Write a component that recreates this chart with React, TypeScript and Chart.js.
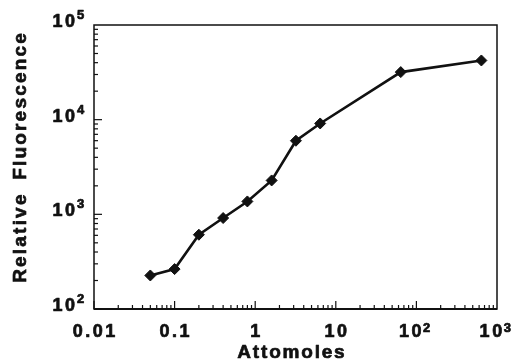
import React, { useEffect, useRef } from "react";
import { Chart, registerables } from "chart.js";

Chart.register(...registerables);

const attomoles = [0.05, 0.1, 0.2, 0.4, 0.8, 1.6, 3.2, 6.4, 64, 640];
const fluorescence = [226, 264, 609, 914, 1368, 2280, 5990, 9120, 31800, 42200];

const xTickValues = [0.01, 0.1, 1, 10, 100, 1000];
const xTickBase = ["0.01", "0.1", "1", "10", "10", "10"];
const xTickExp = ["", "", "", "", "2", "3"];

const yTickValues = [100, 1000, 10000, 100000];
const yTickBase = ["10", "10", "10", "10"];
const yTickExp = ["2", "3", "4", "5"];

const xTitle = "Attomoles";
const yTitle = "Relative Fluorescence";

const FONT = "'Liberation Sans', Arial, Helvetica, sans-serif";

function spacedWidth(ctx: CanvasRenderingContext2D, text: string, sp: number) {
  let w = 0;
  const chars = Array.from(text);
  for (const ch of chars) w += ctx.measureText(ch).width;
  return w + sp * Math.max(0, chars.length - 1);
}

function drawChar(ctx: CanvasRenderingContext2D, ch: string, x: number, y: number) {
  ctx.fillText(ch, x, y);
  ctx.strokeText(ch, x, y);
}

function drawSpaced(ctx: CanvasRenderingContext2D, text: string, x: number, y: number, sp: number) {
  ctx.textAlign = "left";
  let cx = x;
  for (const ch of Array.from(text)) {
    drawChar(ctx, ch, cx, y);
    cx += ctx.measureText(ch).width + sp;
  }
}

const framePlugin = {
  id: "frameAndLabels",
  afterDraw(chart: any) {
    const ctx: CanvasRenderingContext2D = chart.ctx;
    const { left, right, top, bottom } = chart.chartArea;
    const xs = chart.scales.x;
    const ys = chart.scales.y;
    ctx.save();
    ctx.strokeStyle = "#111";
    ctx.fillStyle = "#111";

    // frame
    ctx.lineWidth = 1.5;
    ctx.strokeRect(left, top, right - left, bottom - top);
    ctx.lineWidth = 2;
    ctx.beginPath();
    ctx.moveTo(left, bottom);
    ctx.lineTo(right, bottom);
    ctx.stroke();

    // ticks (inward)
    ctx.lineWidth = 1.2;
    const xd0 = Math.round(Math.log10(xs.min));
    const xd1 = Math.round(Math.log10(xs.max));
    for (let d = xd0; d < xd1; d++) {
      for (let k = 1; k <= 9; k++) {
        const px = xs.getPixelForValue(k * Math.pow(10, d));
        const len = k === 1 ? 8 : 4;
        ctx.beginPath();
        ctx.moveTo(px, bottom);
        ctx.lineTo(px, bottom - len);
        ctx.stroke();
      }
    }
    const yd0 = Math.round(Math.log10(ys.min));
    const yd1 = Math.round(Math.log10(ys.max));
    for (let d = yd0; d < yd1; d++) {
      for (let k = 1; k <= 9; k++) {
        const py = ys.getPixelForValue(k * Math.pow(10, d));
        const len = k === 1 ? 8 : 4;
        ctx.beginPath();
        ctx.moveTo(left, py);
        ctx.lineTo(left + len, py);
        ctx.stroke();
      }
    }

    // text
    ctx.lineWidth = 0.7;
    ctx.lineJoin = "round";
    ctx.textBaseline = "alphabetic";
    const baseFont = `bold 18px ${FONT}`;
    const expFont = `bold 13px ${FONT}`;
    xTickValues.forEach((v, i) => {
      const px = xs.getPixelForValue(v);
      ctx.font = baseFont;
      const wb = spacedWidth(ctx, xTickBase[i], 2.5);
      ctx.font = expFont;
      const we = xTickExp[i] ? ctx.measureText(xTickExp[i]).width + 1 : 0;
      const start = px - (wb + we) / 2 - (xTickExp[i] ? 2 : 0);
      ctx.font = baseFont;
      drawSpaced(ctx, xTickBase[i], start, 337, 2.5);
      if (xTickExp[i]) {
        ctx.font = expFont;
        ctx.textAlign = "left";
        drawChar(ctx, xTickExp[i], start + wb + 1.5, 332);
      }
    });

    yTickValues.forEach((v, i) => {
      const py = ys.getPixelForValue(v);
      ctx.font = baseFont;
      const wb = spacedWidth(ctx, yTickBase[i], 2.5);
      const start = 75 - wb;
      drawSpaced(ctx, yTickBase[i], start, py + 2, 2.5);
      ctx.font = expFont;
      ctx.textAlign = "left";
      drawChar(ctx, yTickExp[i], 77, py - 6);
    });

    // x title
    ctx.font = `bold 19px ${FONT}`;
    const wt = spacedWidth(ctx, xTitle, 1.8);
    drawSpaced(ctx, xTitle, 291 - wt / 2, 358, 1.8);

    // y title
    ctx.font = `bold 19px ${FONT}`;
    const ySp = 2.2;
    const wy = spacedWidth(ctx, yTitle, ySp) + 5;
    ctx.translate(26, 158);
    ctx.rotate(-Math.PI / 2);
    ctx.textAlign = "left";
    let cx = -wy / 2;
    for (const ch of Array.from(yTitle)) {
      drawChar(ctx, ch, cx, 0);
      cx += ctx.measureText(ch).width + ySp + (ch === " " ? 5 : 0);
    }
    ctx.restore();
  },
};

export default function App() {
  const canvasRef = useRef<HTMLCanvasElement | null>(null);

  useEffect(() => {
    if (!canvasRef.current) return;
    const chart = new Chart(canvasRef.current, {
      type: "line",
      data: {
        datasets: [
          {
            data: attomoles.map((x, i) => ({ x, y: fluorescence[i] })),
            borderColor: "#111",
            backgroundColor: "#111",
            borderWidth: 2.6,
            pointStyle: "rectRot",
            pointRadius: 5.5,
            pointBorderWidth: 1,
            pointBackgroundColor: "#111",
            pointBorderColor: "#111",
            tension: 0,
            fill: false,
          },
        ],
      },
      options: {
        animation: false,
        responsive: false,
        maintainAspectRatio: false,
        devicePixelRatio: 1,
        layout: { padding: { top: 25, right: 14, left: 0, bottom: 0 } },
        plugins: { legend: { display: false }, tooltip: { enabled: false } },
        scales: {
          x: {
            type: "logarithmic",
            min: 0.01,
            max: 1000,
            grid: { display: false },
            border: { display: false },
            ticks: { display: false },
            afterFit: (s: any) => {
              s.height = 53;
            },
          },
          y: {
            type: "logarithmic",
            min: 100,
            max: 100000,
            grid: { display: false },
            border: { display: false },
            ticks: { display: false },
            afterFit: (s: any) => {
              s.width = 94;
            },
          },
        },
      },
      plugins: [framePlugin],
    } as any);
    return () => chart.destroy();
  }, []);

  return (
    <div style={{ position: "fixed", left: 0, top: 0, width: 511, height: 362, background: "#fff" }}>
      <canvas ref={canvasRef} width={511} height={362} style={{ display: "block" }} />
    </div>
  );
}
